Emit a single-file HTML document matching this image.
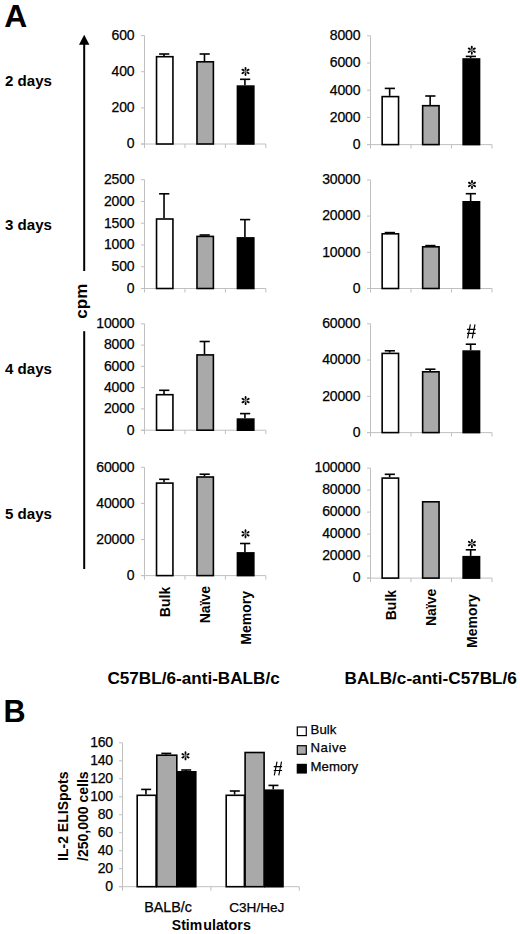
<!DOCTYPE html>
<html><head><meta charset="utf-8"><title>Figure</title>
<style>
html,body{margin:0;padding:0;background:#fff;}
body{width:520px;height:934px;overflow:hidden;font-family:"Liberation Sans", sans-serif;}
svg{display:block;}
</style></head><body>
<svg width="520" height="934" viewBox="0 0 520 934" font-family='"Liberation Sans", sans-serif' fill="#000">
<rect width="520" height="934" fill="#fff"/>
<text x="4.2" y="26.9" font-size="31.8" font-weight="bold">A</text>
<text transform="translate(3.6,722.2) scale(0.95,1)" font-size="32.2" font-weight="bold">B</text>
<text x="5" y="86.3" font-size="15.1" font-weight="bold">2 days</text>
<text x="5" y="230.2" font-size="15.1" font-weight="bold">3 days</text>
<text x="5" y="374.3" font-size="15.1" font-weight="bold">4 days</text>
<text x="5" y="518.8" font-size="15.1" font-weight="bold">5 days</text>
<path d="M84.2 34.8 L89.4 44.8 L79 44.8 Z" fill="#000"/>
<line x1="84.2" y1="44" x2="84.2" y2="271" stroke="#000" stroke-width="2"/>
<line x1="84.2" y1="331.2" x2="84.2" y2="569" stroke="#000" stroke-width="2"/>
<text transform="translate(86.8,301.2) rotate(-90)" font-size="17" font-weight="bold" text-anchor="middle">cpm</text>
<line x1="144.5" y1="35.6" x2="144.5" y2="148" stroke="#c0c0c0" stroke-width="1"/>
<line x1="141" y1="144" x2="144.5" y2="144" stroke="#c0c0c0" stroke-width="1"/>
<text x="134.5" y="148.3" font-size="14" text-anchor="end" stroke="#000" stroke-width="0.25" letter-spacing="-0.15">0</text>
<line x1="141" y1="107.87" x2="144.5" y2="107.87" stroke="#c0c0c0" stroke-width="1"/>
<text x="134.5" y="112.17" font-size="14" text-anchor="end" stroke="#000" stroke-width="0.25" letter-spacing="-0.15">200</text>
<line x1="141" y1="71.73" x2="144.5" y2="71.73" stroke="#c0c0c0" stroke-width="1"/>
<text x="134.5" y="76.03" font-size="14" text-anchor="end" stroke="#000" stroke-width="0.25" letter-spacing="-0.15">400</text>
<line x1="141" y1="35.6" x2="144.5" y2="35.6" stroke="#c0c0c0" stroke-width="1"/>
<text x="134.5" y="39.9" font-size="14" text-anchor="end" stroke="#000" stroke-width="0.25" letter-spacing="-0.15">600</text>
<line x1="141" y1="144" x2="265.85" y2="144" stroke="#c0c0c0" stroke-width="1"/>
<line x1="184.95" y1="144" x2="184.95" y2="148" stroke="#c0c0c0" stroke-width="1"/>
<line x1="225.4" y1="144" x2="225.4" y2="148" stroke="#c0c0c0" stroke-width="1"/>
<line x1="265.85" y1="144" x2="265.85" y2="148" stroke="#c0c0c0" stroke-width="1"/>
<line x1="164.03" y1="54" x2="164.03" y2="55.9" stroke="#000" stroke-width="1.6"/>
<line x1="159.12" y1="54" x2="169.32" y2="54" stroke="#000" stroke-width="1.6"/>
<rect x="156.53" y="56.7" width="16.4" height="87.3" fill="#fff" stroke="#000" stroke-width="1.6"/>
<line x1="204.48" y1="54" x2="204.48" y2="61" stroke="#000" stroke-width="1.6"/>
<line x1="199.58" y1="54" x2="209.78" y2="54" stroke="#000" stroke-width="1.6"/>
<rect x="196.98" y="61.8" width="16.4" height="82.2" fill="#a9a9a9" stroke="#000" stroke-width="1.6"/>
<line x1="244.93" y1="79.3" x2="244.93" y2="85.3" stroke="#000" stroke-width="1.6"/>
<line x1="240.03" y1="79.3" x2="250.22" y2="79.3" stroke="#000" stroke-width="1.6"/>
<rect x="237.43" y="86.1" width="16.4" height="57.9" fill="#000" stroke="#000" stroke-width="1.6"/>
<path d="M245.5 71.4L245.5 68.7M245.5 71.4L247.84 70.05M245.5 71.4L243.16 70.05M245.5 71.4L245.5 74.1M245.5 71.4L243.16 72.75M245.5 71.4L247.84 72.75" stroke="#555" stroke-width="0.8" fill="none"/>
<path d="M245.5 69.15L245.5 67.8M247.45 70.28L248.62 69.6M243.55 70.28L242.38 69.6M245.5 73.65L245.5 75M243.55 72.53L242.38 73.2M247.45 72.53L248.62 73.2" stroke="#000" stroke-width="1.8" stroke-linecap="round" fill="none"/>
<line x1="370.5" y1="35.8" x2="370.5" y2="148.6" stroke="#c0c0c0" stroke-width="1"/>
<line x1="367" y1="144.6" x2="370.5" y2="144.6" stroke="#c0c0c0" stroke-width="1"/>
<text x="360.4" y="148.9" font-size="14" text-anchor="end" stroke="#000" stroke-width="0.25" letter-spacing="-0.15">0</text>
<line x1="367" y1="117.4" x2="370.5" y2="117.4" stroke="#c0c0c0" stroke-width="1"/>
<text x="360.4" y="121.7" font-size="14" text-anchor="end" stroke="#000" stroke-width="0.25" letter-spacing="-0.15">2000</text>
<line x1="367" y1="90.2" x2="370.5" y2="90.2" stroke="#c0c0c0" stroke-width="1"/>
<text x="360.4" y="94.5" font-size="14" text-anchor="end" stroke="#000" stroke-width="0.25" letter-spacing="-0.15">4000</text>
<line x1="367" y1="63" x2="370.5" y2="63" stroke="#c0c0c0" stroke-width="1"/>
<text x="360.4" y="67.3" font-size="14" text-anchor="end" stroke="#000" stroke-width="0.25" letter-spacing="-0.15">6000</text>
<line x1="367" y1="35.8" x2="370.5" y2="35.8" stroke="#c0c0c0" stroke-width="1"/>
<text x="360.4" y="40.1" font-size="14" text-anchor="end" stroke="#000" stroke-width="0.25" letter-spacing="-0.15">8000</text>
<line x1="367" y1="144.6" x2="492" y2="144.6" stroke="#c0c0c0" stroke-width="1"/>
<line x1="411" y1="144.6" x2="411" y2="148.6" stroke="#c0c0c0" stroke-width="1"/>
<line x1="451.5" y1="144.6" x2="451.5" y2="148.6" stroke="#c0c0c0" stroke-width="1"/>
<line x1="492" y1="144.6" x2="492" y2="148.6" stroke="#c0c0c0" stroke-width="1"/>
<line x1="389.65" y1="88.4" x2="389.65" y2="95.8" stroke="#000" stroke-width="1.6"/>
<line x1="384.75" y1="88.4" x2="394.95" y2="88.4" stroke="#000" stroke-width="1.6"/>
<rect x="382.15" y="96.6" width="16.4" height="48" fill="#fff" stroke="#000" stroke-width="1.6"/>
<line x1="430.15" y1="96" x2="430.15" y2="104.9" stroke="#000" stroke-width="1.6"/>
<line x1="425.25" y1="96" x2="435.45" y2="96" stroke="#000" stroke-width="1.6"/>
<rect x="422.65" y="105.7" width="16.4" height="38.9" fill="#a9a9a9" stroke="#000" stroke-width="1.6"/>
<line x1="470.65" y1="56.4" x2="470.65" y2="58.2" stroke="#000" stroke-width="1.6"/>
<line x1="465.75" y1="56.4" x2="475.95" y2="56.4" stroke="#000" stroke-width="1.6"/>
<rect x="463.15" y="59" width="16.4" height="85.6" fill="#000" stroke="#000" stroke-width="1.6"/>
<path d="M471.8 50.2L471.8 47.5M471.8 50.2L474.14 48.85M471.8 50.2L469.46 48.85M471.8 50.2L471.8 52.9M471.8 50.2L469.46 51.55M471.8 50.2L474.14 51.55" stroke="#555" stroke-width="0.8" fill="none"/>
<path d="M471.8 47.95L471.8 46.6M473.75 49.08L474.92 48.4M469.85 49.08L468.68 48.4M471.8 52.45L471.8 53.8M469.85 51.33L468.68 52M473.75 51.33L474.92 52" stroke="#000" stroke-width="1.8" stroke-linecap="round" fill="none"/>
<line x1="144.5" y1="179.7" x2="144.5" y2="292.5" stroke="#c0c0c0" stroke-width="1"/>
<line x1="141" y1="288.5" x2="144.5" y2="288.5" stroke="#c0c0c0" stroke-width="1"/>
<text x="134.5" y="292.8" font-size="14" text-anchor="end" stroke="#000" stroke-width="0.25" letter-spacing="-0.15">0</text>
<line x1="141" y1="266.74" x2="144.5" y2="266.74" stroke="#c0c0c0" stroke-width="1"/>
<text x="134.5" y="271.04" font-size="14" text-anchor="end" stroke="#000" stroke-width="0.25" letter-spacing="-0.15">500</text>
<line x1="141" y1="244.98" x2="144.5" y2="244.98" stroke="#c0c0c0" stroke-width="1"/>
<text x="134.5" y="249.28" font-size="14" text-anchor="end" stroke="#000" stroke-width="0.25" letter-spacing="-0.15">1000</text>
<line x1="141" y1="223.22" x2="144.5" y2="223.22" stroke="#c0c0c0" stroke-width="1"/>
<text x="134.5" y="227.52" font-size="14" text-anchor="end" stroke="#000" stroke-width="0.25" letter-spacing="-0.15">1500</text>
<line x1="141" y1="201.46" x2="144.5" y2="201.46" stroke="#c0c0c0" stroke-width="1"/>
<text x="134.5" y="205.76" font-size="14" text-anchor="end" stroke="#000" stroke-width="0.25" letter-spacing="-0.15">2000</text>
<line x1="141" y1="179.7" x2="144.5" y2="179.7" stroke="#c0c0c0" stroke-width="1"/>
<text x="134.5" y="184" font-size="14" text-anchor="end" stroke="#000" stroke-width="0.25" letter-spacing="-0.15">2500</text>
<line x1="141" y1="288.5" x2="265.85" y2="288.5" stroke="#c0c0c0" stroke-width="1"/>
<line x1="184.95" y1="288.5" x2="184.95" y2="292.5" stroke="#c0c0c0" stroke-width="1"/>
<line x1="225.4" y1="288.5" x2="225.4" y2="292.5" stroke="#c0c0c0" stroke-width="1"/>
<line x1="265.85" y1="288.5" x2="265.85" y2="292.5" stroke="#c0c0c0" stroke-width="1"/>
<line x1="164.03" y1="193.8" x2="164.03" y2="218.2" stroke="#000" stroke-width="1.6"/>
<line x1="159.12" y1="193.8" x2="169.32" y2="193.8" stroke="#000" stroke-width="1.6"/>
<rect x="156.53" y="219" width="16.4" height="69.5" fill="#fff" stroke="#000" stroke-width="1.6"/>
<line x1="204.48" y1="235" x2="204.48" y2="235.6" stroke="#000" stroke-width="1.6"/>
<line x1="199.58" y1="235" x2="209.78" y2="235" stroke="#000" stroke-width="1.6"/>
<rect x="196.98" y="236.4" width="16.4" height="52.1" fill="#a9a9a9" stroke="#000" stroke-width="1.6"/>
<line x1="244.93" y1="219.6" x2="244.93" y2="237.1" stroke="#000" stroke-width="1.6"/>
<line x1="240.03" y1="219.6" x2="250.22" y2="219.6" stroke="#000" stroke-width="1.6"/>
<rect x="237.43" y="237.9" width="16.4" height="50.6" fill="#000" stroke="#000" stroke-width="1.6"/>
<line x1="370.5" y1="179.9" x2="370.5" y2="292.5" stroke="#c0c0c0" stroke-width="1"/>
<line x1="367" y1="288.5" x2="370.5" y2="288.5" stroke="#c0c0c0" stroke-width="1"/>
<text x="360.4" y="292.8" font-size="14" text-anchor="end" stroke="#000" stroke-width="0.25" letter-spacing="-0.15">0</text>
<line x1="367" y1="252.3" x2="370.5" y2="252.3" stroke="#c0c0c0" stroke-width="1"/>
<text x="360.4" y="256.6" font-size="14" text-anchor="end" stroke="#000" stroke-width="0.25" letter-spacing="-0.15">10000</text>
<line x1="367" y1="216.1" x2="370.5" y2="216.1" stroke="#c0c0c0" stroke-width="1"/>
<text x="360.4" y="220.4" font-size="14" text-anchor="end" stroke="#000" stroke-width="0.25" letter-spacing="-0.15">20000</text>
<line x1="367" y1="179.9" x2="370.5" y2="179.9" stroke="#c0c0c0" stroke-width="1"/>
<text x="360.4" y="184.2" font-size="14" text-anchor="end" stroke="#000" stroke-width="0.25" letter-spacing="-0.15">30000</text>
<line x1="367" y1="288.5" x2="492" y2="288.5" stroke="#c0c0c0" stroke-width="1"/>
<line x1="411" y1="288.5" x2="411" y2="292.5" stroke="#c0c0c0" stroke-width="1"/>
<line x1="451.5" y1="288.5" x2="451.5" y2="292.5" stroke="#c0c0c0" stroke-width="1"/>
<line x1="492" y1="288.5" x2="492" y2="292.5" stroke="#c0c0c0" stroke-width="1"/>
<line x1="389.65" y1="232.6" x2="389.65" y2="233" stroke="#000" stroke-width="1.6"/>
<line x1="384.75" y1="232.6" x2="394.95" y2="232.6" stroke="#000" stroke-width="1.6"/>
<rect x="382.15" y="233.8" width="16.4" height="54.7" fill="#fff" stroke="#000" stroke-width="1.6"/>
<line x1="430.15" y1="245.6" x2="430.15" y2="246" stroke="#000" stroke-width="1.6"/>
<line x1="425.25" y1="245.6" x2="435.45" y2="245.6" stroke="#000" stroke-width="1.6"/>
<rect x="422.65" y="246.8" width="16.4" height="41.7" fill="#a9a9a9" stroke="#000" stroke-width="1.6"/>
<line x1="470.65" y1="193.7" x2="470.65" y2="201" stroke="#000" stroke-width="1.6"/>
<line x1="465.75" y1="193.7" x2="475.95" y2="193.7" stroke="#000" stroke-width="1.6"/>
<rect x="463.15" y="201.8" width="16.4" height="86.7" fill="#000" stroke="#000" stroke-width="1.6"/>
<path d="M472 184.4L472 181.7M472 184.4L474.34 183.05M472 184.4L469.66 183.05M472 184.4L472 187.1M472 184.4L469.66 185.75M472 184.4L474.34 185.75" stroke="#555" stroke-width="0.8" fill="none"/>
<path d="M472 182.15L472 180.8M473.95 183.28L475.12 182.6M470.05 183.28L468.88 182.6M472 186.65L472 188M470.05 185.53L468.88 186.2M473.95 185.53L475.12 186.2" stroke="#000" stroke-width="1.8" stroke-linecap="round" fill="none"/>
<line x1="144.5" y1="323.8" x2="144.5" y2="434.2" stroke="#c0c0c0" stroke-width="1"/>
<line x1="141" y1="430.2" x2="144.5" y2="430.2" stroke="#c0c0c0" stroke-width="1"/>
<text x="134.5" y="434.5" font-size="14" text-anchor="end" stroke="#000" stroke-width="0.25" letter-spacing="-0.15">0</text>
<line x1="141" y1="408.92" x2="144.5" y2="408.92" stroke="#c0c0c0" stroke-width="1"/>
<text x="134.5" y="413.22" font-size="14" text-anchor="end" stroke="#000" stroke-width="0.25" letter-spacing="-0.15">2000</text>
<line x1="141" y1="387.64" x2="144.5" y2="387.64" stroke="#c0c0c0" stroke-width="1"/>
<text x="134.5" y="391.94" font-size="14" text-anchor="end" stroke="#000" stroke-width="0.25" letter-spacing="-0.15">4000</text>
<line x1="141" y1="366.36" x2="144.5" y2="366.36" stroke="#c0c0c0" stroke-width="1"/>
<text x="134.5" y="370.66" font-size="14" text-anchor="end" stroke="#000" stroke-width="0.25" letter-spacing="-0.15">6000</text>
<line x1="141" y1="345.08" x2="144.5" y2="345.08" stroke="#c0c0c0" stroke-width="1"/>
<text x="134.5" y="349.38" font-size="14" text-anchor="end" stroke="#000" stroke-width="0.25" letter-spacing="-0.15">8000</text>
<line x1="141" y1="323.8" x2="144.5" y2="323.8" stroke="#c0c0c0" stroke-width="1"/>
<text x="134.5" y="328.1" font-size="14" text-anchor="end" stroke="#000" stroke-width="0.25" letter-spacing="-0.15">10000</text>
<line x1="141" y1="430.2" x2="265.85" y2="430.2" stroke="#c0c0c0" stroke-width="1"/>
<line x1="184.95" y1="430.2" x2="184.95" y2="434.2" stroke="#c0c0c0" stroke-width="1"/>
<line x1="225.4" y1="430.2" x2="225.4" y2="434.2" stroke="#c0c0c0" stroke-width="1"/>
<line x1="265.85" y1="430.2" x2="265.85" y2="434.2" stroke="#c0c0c0" stroke-width="1"/>
<line x1="164.03" y1="390.3" x2="164.03" y2="393.9" stroke="#000" stroke-width="1.6"/>
<line x1="159.12" y1="390.3" x2="169.32" y2="390.3" stroke="#000" stroke-width="1.6"/>
<rect x="156.53" y="394.7" width="16.4" height="35.5" fill="#fff" stroke="#000" stroke-width="1.6"/>
<line x1="204.48" y1="341.5" x2="204.48" y2="354.1" stroke="#000" stroke-width="1.6"/>
<line x1="199.58" y1="341.5" x2="209.78" y2="341.5" stroke="#000" stroke-width="1.6"/>
<rect x="196.98" y="354.9" width="16.4" height="75.3" fill="#a9a9a9" stroke="#000" stroke-width="1.6"/>
<line x1="244.93" y1="413.6" x2="244.93" y2="418.3" stroke="#000" stroke-width="1.6"/>
<line x1="240.03" y1="413.6" x2="250.22" y2="413.6" stroke="#000" stroke-width="1.6"/>
<rect x="237.43" y="419.1" width="16.4" height="11.1" fill="#000" stroke="#000" stroke-width="1.6"/>
<path d="M245.6 400.6L245.6 397.9M245.6 400.6L247.94 399.25M245.6 400.6L243.26 399.25M245.6 400.6L245.6 403.3M245.6 400.6L243.26 401.95M245.6 400.6L247.94 401.95" stroke="#555" stroke-width="0.8" fill="none"/>
<path d="M245.6 398.35L245.6 397M247.55 399.48L248.72 398.8M243.65 399.48L242.48 398.8M245.6 402.85L245.6 404.2M243.65 401.73L242.48 402.4M247.55 401.73L248.72 402.4" stroke="#000" stroke-width="1.8" stroke-linecap="round" fill="none"/>
<line x1="370.5" y1="323.8" x2="370.5" y2="436.6" stroke="#c0c0c0" stroke-width="1"/>
<line x1="367" y1="432.6" x2="370.5" y2="432.6" stroke="#c0c0c0" stroke-width="1"/>
<text x="360.4" y="436.9" font-size="14" text-anchor="end" stroke="#000" stroke-width="0.25" letter-spacing="-0.15">0</text>
<line x1="367" y1="396.33" x2="370.5" y2="396.33" stroke="#c0c0c0" stroke-width="1"/>
<text x="360.4" y="400.63" font-size="14" text-anchor="end" stroke="#000" stroke-width="0.25" letter-spacing="-0.15">20000</text>
<line x1="367" y1="360.07" x2="370.5" y2="360.07" stroke="#c0c0c0" stroke-width="1"/>
<text x="360.4" y="364.37" font-size="14" text-anchor="end" stroke="#000" stroke-width="0.25" letter-spacing="-0.15">40000</text>
<line x1="367" y1="323.8" x2="370.5" y2="323.8" stroke="#c0c0c0" stroke-width="1"/>
<text x="360.4" y="328.1" font-size="14" text-anchor="end" stroke="#000" stroke-width="0.25" letter-spacing="-0.15">60000</text>
<line x1="367" y1="432.6" x2="492" y2="432.6" stroke="#c0c0c0" stroke-width="1"/>
<line x1="411" y1="432.6" x2="411" y2="436.6" stroke="#c0c0c0" stroke-width="1"/>
<line x1="451.5" y1="432.6" x2="451.5" y2="436.6" stroke="#c0c0c0" stroke-width="1"/>
<line x1="492" y1="432.6" x2="492" y2="436.6" stroke="#c0c0c0" stroke-width="1"/>
<line x1="389.65" y1="350.8" x2="389.65" y2="352.6" stroke="#000" stroke-width="1.6"/>
<line x1="384.75" y1="350.8" x2="394.95" y2="350.8" stroke="#000" stroke-width="1.6"/>
<rect x="382.15" y="353.4" width="16.4" height="79.2" fill="#fff" stroke="#000" stroke-width="1.6"/>
<line x1="430.15" y1="369.2" x2="430.15" y2="371" stroke="#000" stroke-width="1.6"/>
<line x1="425.25" y1="369.2" x2="435.45" y2="369.2" stroke="#000" stroke-width="1.6"/>
<rect x="422.65" y="371.8" width="16.4" height="60.8" fill="#a9a9a9" stroke="#000" stroke-width="1.6"/>
<line x1="470.65" y1="344.2" x2="470.65" y2="350.3" stroke="#000" stroke-width="1.6"/>
<line x1="465.75" y1="344.2" x2="475.95" y2="344.2" stroke="#000" stroke-width="1.6"/>
<rect x="463.15" y="351.1" width="16.4" height="81.5" fill="#000" stroke="#000" stroke-width="1.6"/>
<path d="M470.39 324.4L467.59 338.4M475.01 324.4L472.21 338.4M466.96 329.44L475.64 329.44M466.96 333.43L475.64 333.43" stroke="#000" stroke-width="1.15" fill="none"/>
<line x1="144.5" y1="467.3" x2="144.5" y2="579.6" stroke="#c0c0c0" stroke-width="1"/>
<line x1="141" y1="575.6" x2="144.5" y2="575.6" stroke="#c0c0c0" stroke-width="1"/>
<text x="134.5" y="579.9" font-size="14" text-anchor="end" stroke="#000" stroke-width="0.25" letter-spacing="-0.15">0</text>
<line x1="141" y1="539.5" x2="144.5" y2="539.5" stroke="#c0c0c0" stroke-width="1"/>
<text x="134.5" y="543.8" font-size="14" text-anchor="end" stroke="#000" stroke-width="0.25" letter-spacing="-0.15">20000</text>
<line x1="141" y1="503.4" x2="144.5" y2="503.4" stroke="#c0c0c0" stroke-width="1"/>
<text x="134.5" y="507.7" font-size="14" text-anchor="end" stroke="#000" stroke-width="0.25" letter-spacing="-0.15">40000</text>
<line x1="141" y1="467.3" x2="144.5" y2="467.3" stroke="#c0c0c0" stroke-width="1"/>
<text x="134.5" y="471.6" font-size="14" text-anchor="end" stroke="#000" stroke-width="0.25" letter-spacing="-0.15">60000</text>
<line x1="141" y1="575.6" x2="265.85" y2="575.6" stroke="#c0c0c0" stroke-width="1"/>
<line x1="184.95" y1="575.6" x2="184.95" y2="579.6" stroke="#c0c0c0" stroke-width="1"/>
<line x1="225.4" y1="575.6" x2="225.4" y2="579.6" stroke="#c0c0c0" stroke-width="1"/>
<line x1="265.85" y1="575.6" x2="265.85" y2="579.6" stroke="#c0c0c0" stroke-width="1"/>
<line x1="164.03" y1="479.3" x2="164.03" y2="482.3" stroke="#000" stroke-width="1.6"/>
<line x1="159.12" y1="479.3" x2="169.32" y2="479.3" stroke="#000" stroke-width="1.6"/>
<rect x="156.53" y="483.1" width="16.4" height="92.5" fill="#fff" stroke="#000" stroke-width="1.6"/>
<line x1="204.48" y1="474.2" x2="204.48" y2="476.2" stroke="#000" stroke-width="1.6"/>
<line x1="199.58" y1="474.2" x2="209.78" y2="474.2" stroke="#000" stroke-width="1.6"/>
<rect x="196.98" y="477" width="16.4" height="98.6" fill="#a9a9a9" stroke="#000" stroke-width="1.6"/>
<line x1="244.93" y1="543.5" x2="244.93" y2="552.1" stroke="#000" stroke-width="1.6"/>
<line x1="240.03" y1="543.5" x2="250.22" y2="543.5" stroke="#000" stroke-width="1.6"/>
<rect x="237.43" y="552.9" width="16.4" height="22.7" fill="#000" stroke="#000" stroke-width="1.6"/>
<path d="M245.5 533.8L245.5 531.1M245.5 533.8L247.84 532.45M245.5 533.8L243.16 532.45M245.5 533.8L245.5 536.5M245.5 533.8L243.16 535.15M245.5 533.8L247.84 535.15" stroke="#555" stroke-width="0.8" fill="none"/>
<path d="M245.5 531.55L245.5 530.2M247.45 532.67L248.62 532M243.55 532.67L242.38 532M245.5 536.05L245.5 537.4M243.55 534.92L242.38 535.6M247.45 534.92L248.62 535.6" stroke="#000" stroke-width="1.8" stroke-linecap="round" fill="none"/>
<line x1="370.5" y1="468.1" x2="370.5" y2="582.1" stroke="#c0c0c0" stroke-width="1"/>
<line x1="367" y1="578.1" x2="370.5" y2="578.1" stroke="#c0c0c0" stroke-width="1"/>
<text x="360.4" y="582.4" font-size="14" text-anchor="end" stroke="#000" stroke-width="0.25" letter-spacing="-0.15">0</text>
<line x1="367" y1="556.1" x2="370.5" y2="556.1" stroke="#c0c0c0" stroke-width="1"/>
<text x="360.4" y="560.4" font-size="14" text-anchor="end" stroke="#000" stroke-width="0.25" letter-spacing="-0.15">20000</text>
<line x1="367" y1="534.1" x2="370.5" y2="534.1" stroke="#c0c0c0" stroke-width="1"/>
<text x="360.4" y="538.4" font-size="14" text-anchor="end" stroke="#000" stroke-width="0.25" letter-spacing="-0.15">40000</text>
<line x1="367" y1="512.1" x2="370.5" y2="512.1" stroke="#c0c0c0" stroke-width="1"/>
<text x="360.4" y="516.4" font-size="14" text-anchor="end" stroke="#000" stroke-width="0.25" letter-spacing="-0.15">60000</text>
<line x1="367" y1="490.1" x2="370.5" y2="490.1" stroke="#c0c0c0" stroke-width="1"/>
<text x="360.4" y="494.4" font-size="14" text-anchor="end" stroke="#000" stroke-width="0.25" letter-spacing="-0.15">80000</text>
<line x1="367" y1="468.1" x2="370.5" y2="468.1" stroke="#c0c0c0" stroke-width="1"/>
<text x="360.4" y="472.4" font-size="14" text-anchor="end" stroke="#000" stroke-width="0.25" letter-spacing="-0.15">100000</text>
<line x1="367" y1="578.1" x2="492" y2="578.1" stroke="#c0c0c0" stroke-width="1"/>
<line x1="411" y1="578.1" x2="411" y2="582.1" stroke="#c0c0c0" stroke-width="1"/>
<line x1="451.5" y1="578.1" x2="451.5" y2="582.1" stroke="#c0c0c0" stroke-width="1"/>
<line x1="492" y1="578.1" x2="492" y2="582.1" stroke="#c0c0c0" stroke-width="1"/>
<line x1="389.65" y1="474.3" x2="389.65" y2="477.3" stroke="#000" stroke-width="1.6"/>
<line x1="384.75" y1="474.3" x2="394.95" y2="474.3" stroke="#000" stroke-width="1.6"/>
<rect x="382.15" y="478.1" width="16.4" height="100" fill="#fff" stroke="#000" stroke-width="1.6"/>
<rect x="422.65" y="501.8" width="16.4" height="76.3" fill="#a9a9a9" stroke="#000" stroke-width="1.6"/>
<line x1="470.65" y1="549.8" x2="470.65" y2="555.9" stroke="#000" stroke-width="1.6"/>
<line x1="465.75" y1="549.8" x2="475.95" y2="549.8" stroke="#000" stroke-width="1.6"/>
<rect x="463.15" y="556.7" width="16.4" height="21.4" fill="#000" stroke="#000" stroke-width="1.6"/>
<path d="M471.9 543.6L471.9 540.9M471.9 543.6L474.24 542.25M471.9 543.6L469.56 542.25M471.9 543.6L471.9 546.3M471.9 543.6L469.56 544.95M471.9 543.6L474.24 544.95" stroke="#555" stroke-width="0.8" fill="none"/>
<path d="M471.9 541.35L471.9 540M473.85 542.48L475.02 541.8M469.95 542.48L468.78 541.8M471.9 545.85L471.9 547.2M469.95 544.73L468.78 545.4M473.85 544.73L475.02 545.4" stroke="#000" stroke-width="1.8" stroke-linecap="round" fill="none"/>
<text transform="translate(169.92,586.8) rotate(-90)" font-size="14" font-weight="bold" text-anchor="end">Bulk</text>
<text transform="translate(210.38,585.9) rotate(-90)" font-size="14" font-weight="bold" text-anchor="end">Na&#239;ve</text>
<text transform="translate(250.82,591) rotate(-90)" font-size="14" font-weight="bold" text-anchor="end">Memory</text>
<text transform="translate(395.95,589.9) rotate(-90)" font-size="14" font-weight="bold" text-anchor="end">Bulk</text>
<text transform="translate(436.45,588.7) rotate(-90)" font-size="14" font-weight="bold" text-anchor="end">Na&#239;ve</text>
<text transform="translate(476.95,594.2) rotate(-90)" font-size="14" font-weight="bold" text-anchor="end">Memory</text>
<text x="107.4" y="684.2" font-size="17.15" font-weight="bold">C57BL/6-anti-BALB/c</text>
<text x="344.5" y="684.2" font-size="17.15" font-weight="bold">BALB/c-anti-C57BL/6</text>
<line x1="122.5" y1="742.8" x2="122.5" y2="890.7" stroke="#c0c0c0" stroke-width="1"/>
<line x1="119" y1="886.7" x2="122.5" y2="886.7" stroke="#c0c0c0" stroke-width="1"/>
<text x="112.9" y="891" font-size="14" text-anchor="end" stroke="#000" stroke-width="0.25" letter-spacing="-0.2">0</text>
<line x1="119" y1="868.71" x2="122.5" y2="868.71" stroke="#c0c0c0" stroke-width="1"/>
<text x="112.9" y="873.01" font-size="14" text-anchor="end" stroke="#000" stroke-width="0.25" letter-spacing="-0.2">20</text>
<line x1="119" y1="850.73" x2="122.5" y2="850.73" stroke="#c0c0c0" stroke-width="1"/>
<text x="112.9" y="855.02" font-size="14" text-anchor="end" stroke="#000" stroke-width="0.25" letter-spacing="-0.2">40</text>
<line x1="119" y1="832.74" x2="122.5" y2="832.74" stroke="#c0c0c0" stroke-width="1"/>
<text x="112.9" y="837.04" font-size="14" text-anchor="end" stroke="#000" stroke-width="0.25" letter-spacing="-0.2">60</text>
<line x1="119" y1="814.75" x2="122.5" y2="814.75" stroke="#c0c0c0" stroke-width="1"/>
<text x="112.9" y="819.05" font-size="14" text-anchor="end" stroke="#000" stroke-width="0.25" letter-spacing="-0.2">80</text>
<line x1="119" y1="796.76" x2="122.5" y2="796.76" stroke="#c0c0c0" stroke-width="1"/>
<text x="112.9" y="801.06" font-size="14" text-anchor="end" stroke="#000" stroke-width="0.25" letter-spacing="-0.2">100</text>
<line x1="119" y1="778.77" x2="122.5" y2="778.77" stroke="#c0c0c0" stroke-width="1"/>
<text x="112.9" y="783.07" font-size="14" text-anchor="end" stroke="#000" stroke-width="0.25" letter-spacing="-0.2">120</text>
<line x1="119" y1="760.79" x2="122.5" y2="760.79" stroke="#c0c0c0" stroke-width="1"/>
<text x="112.9" y="765.09" font-size="14" text-anchor="end" stroke="#000" stroke-width="0.25" letter-spacing="-0.2">140</text>
<line x1="119" y1="742.8" x2="122.5" y2="742.8" stroke="#c0c0c0" stroke-width="1"/>
<text x="112.9" y="747.1" font-size="14" text-anchor="end" stroke="#000" stroke-width="0.25" letter-spacing="-0.2">160</text>
<line x1="119" y1="886.7" x2="299.3" y2="886.7" stroke="#c0c0c0" stroke-width="1"/>
<line x1="210.9" y1="886.7" x2="210.9" y2="890.7" stroke="#c0c0c0" stroke-width="1"/>
<line x1="299.3" y1="886.7" x2="299.3" y2="890.7" stroke="#c0c0c0" stroke-width="1"/>
<line x1="145.95" y1="789.4" x2="145.95" y2="794.5" stroke="#000" stroke-width="1.6"/>
<line x1="141.15" y1="789.4" x2="151.15" y2="789.4" stroke="#000" stroke-width="1.6"/>
<rect x="137.2" y="795.3" width="18.9" height="91.4" fill="#fff" stroke="#000" stroke-width="1.6"/>
<line x1="166.1" y1="753.4" x2="166.1" y2="754.4" stroke="#000" stroke-width="1.6"/>
<line x1="161.3" y1="753.4" x2="171.3" y2="753.4" stroke="#000" stroke-width="1.6"/>
<rect x="156.8" y="755.2" width="20" height="131.5" fill="#a9a9a9" stroke="#000" stroke-width="1.6"/>
<line x1="186" y1="770" x2="186" y2="771" stroke="#000" stroke-width="1.6"/>
<line x1="181.2" y1="770" x2="191.2" y2="770" stroke="#000" stroke-width="1.6"/>
<rect x="177.6" y="771.8" width="18.2" height="114.9" fill="#000" stroke="#000" stroke-width="1.6"/>
<line x1="234.6" y1="791" x2="234.6" y2="794.5" stroke="#000" stroke-width="1.6"/>
<line x1="229.8" y1="791" x2="239.8" y2="791" stroke="#000" stroke-width="1.6"/>
<rect x="226.2" y="795.3" width="18.2" height="91.4" fill="#fff" stroke="#000" stroke-width="1.6"/>
<rect x="245.1" y="752.5" width="19" height="134.2" fill="#a9a9a9" stroke="#000" stroke-width="1.6"/>
<line x1="273.25" y1="785.4" x2="273.25" y2="789.4" stroke="#000" stroke-width="1.6"/>
<line x1="268.45" y1="785.4" x2="278.45" y2="785.4" stroke="#000" stroke-width="1.6"/>
<rect x="264.9" y="790.2" width="18.1" height="96.5" fill="#000" stroke="#000" stroke-width="1.6"/>
<path d="M185.5 755.8L185.5 753.1M185.5 755.8L187.84 754.45M185.5 755.8L183.16 754.45M185.5 755.8L185.5 758.5M185.5 755.8L183.16 757.15M185.5 755.8L187.84 757.15" stroke="#555" stroke-width="0.8" fill="none"/>
<path d="M185.5 753.55L185.5 752.2M187.45 754.67L188.62 754M183.55 754.67L182.38 754M185.5 758.05L185.5 759.4M183.55 756.92L182.38 757.6M187.45 756.92L188.62 757.6" stroke="#000" stroke-width="1.8" stroke-linecap="round" fill="none"/>
<path d="M277.02 761.7L274.3 775.3M281.5 761.7L278.78 775.3M273.68 766.6L282.12 766.6M273.68 770.47L282.12 770.47" stroke="#000" stroke-width="1.15" fill="none"/>
<text x="144.3" y="911.7" font-size="14.3" stroke="#000" stroke-width="0.25">BALB/c</text>
<text x="229.2" y="911.7" font-size="13.6" stroke="#000" stroke-width="0.25">C3H/HeJ</text>
<text x="171.8" y="930.4" font-size="14" font-weight="bold">Stim</text>
<text x="203.2" y="930.4" font-size="14.3" font-weight="bold">ulators</text>
<text transform="translate(68.2,816.2) rotate(-90)" font-size="14" font-weight="bold" text-anchor="middle">IL-2 ELISpots</text>
<text transform="translate(87.6,816.2) rotate(-90)" font-size="14" font-weight="bold" text-anchor="middle">/250,000 cells</text>
<rect x="297.3" y="727" width="9" height="8.6" fill="#fff" stroke="#000" stroke-width="1.2"/>
<text x="310.6" y="733.7" font-size="13.2" stroke="#000" stroke-width="0.25">Bulk</text>
<rect x="297.3" y="745.7" width="9" height="8.6" fill="#a9a9a9" stroke="#000" stroke-width="1.2"/>
<text x="310.6" y="752.4" font-size="13.2" letter-spacing="0.5" stroke="#000" stroke-width="0.25">Naive</text>
<rect x="297.3" y="764.4" width="9" height="8.6" fill="#000" stroke="#000" stroke-width="1.2"/>
<text x="310.6" y="771.1" font-size="13.2" stroke="#000" stroke-width="0.25">Memory</text>
</svg>
</body></html>
